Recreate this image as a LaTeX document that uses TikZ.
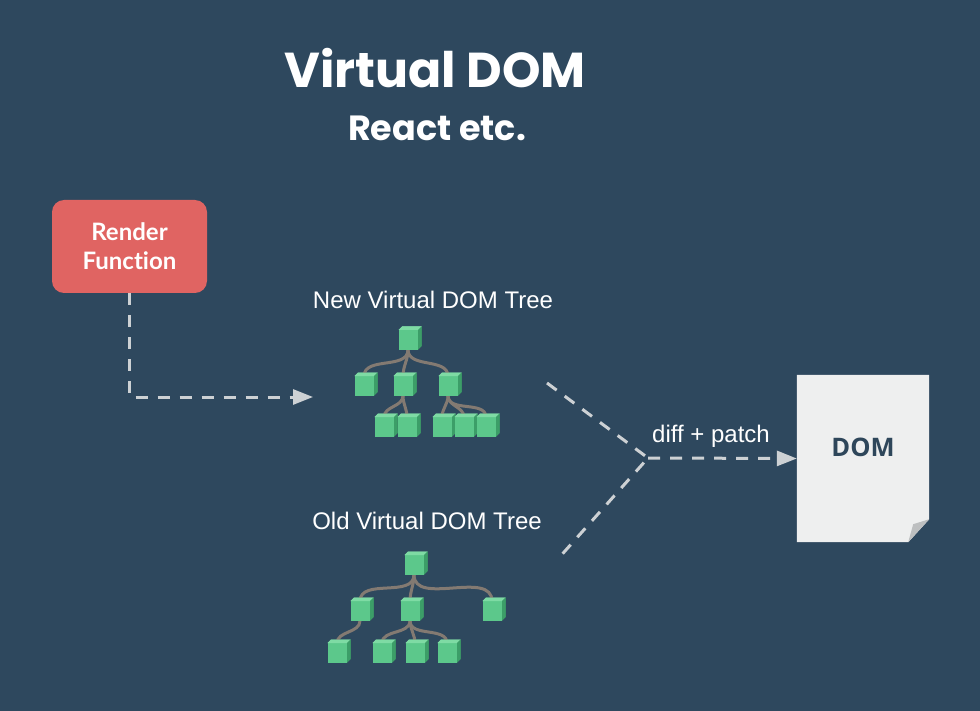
\documentclass[tikz,border=0pt]{standalone}
\usepackage{fontspec}
\setmainfont{Liberation Sans}
\newfontfamily\titlefont{Poppins}
\newfontfamily\boxfont{Lato}[Ligatures={NoCommon,NoContextual,NoRequired}]
\newfontfamily\domfont{Open Sans}
\usetikzlibrary{arrows.meta,calc}
\definecolor{bg}{HTML}{2E485E}
\definecolor{redbox}{HTML}{E06462}
\definecolor{dashc}{HTML}{CDD1D4}
\definecolor{gfront}{HTML}{5CC88B}
\definecolor{gtop}{HTML}{7EDBA4}
\definecolor{gside}{HTML}{3C9E68}
\definecolor{edgec}{HTML}{837A72}
\definecolor{paper}{HTML}{EEEFEF}
\definecolor{fold}{HTML}{BDBFC0}
\definecolor{domtext}{HTML}{2E465A}
\tikzset{
  cube/.style={rectangle, minimum width=23pt, minimum height=23pt, inner sep=0pt,
    path picture={
      \coordinate (q) at (path picture bounding box.south west);
      \fill[gfront] (q) rectangle ($(q)+(19.5pt,19.5pt)$);
      \fill[gtop] ($(q)+(0pt,19.5pt)$) -- ($(q)+(3.5pt,23pt)$) -- ($(q)+(23pt,23pt)$) -- ($(q)+(19.5pt,19.5pt)$) -- cycle;
      \fill[gside] ($(q)+(19.5pt,0pt)$) -- ($(q)+(23pt,3.5pt)$) -- ($(q)+(23pt,23pt)$) -- ($(q)+(19.5pt,19.5pt)$) -- cycle;
    }},
  treeedge/.style={draw=edgec, line width=3pt, out=-90, in=90, looseness=1},
  dashline/.style={draw=dashc, line width=3pt, dash pattern=on 12pt off 10pt},
  tip/.style={-{Triangle[length=20pt,width=15pt]}},
  lbl/.style={text=white, font=\fontsize{24}{28}\selectfont},
}
\begin{document}
\begin{tikzpicture}[x=1pt,y=-1pt]
\useasboundingbox[fill=bg] (0,0) rectangle (980,711);
% titles
\node[text=white, font=\titlefont\bfseries\fontsize{49}{54}\selectfont] (title) at (435,68) {Virtual DOM};
\node[text=white, font=\titlefont\bfseries\fontsize{35}{40}\selectfont] (subtitle) at (437,128) {React etc.};
% render function
\node[fill=redbox, rounded corners=12pt, minimum width=155pt, minimum height=93pt,
  text=white, align=center, font=\boxfont\bfseries\fontsize{24}{29}\selectfont] (render) at (129.5,246.5) {Render\\Function};
\coordinate (newin) at (313,397);
\draw[dashline, tip] (render.south) |- (newin);
% labels
\node[lbl] (newlbl) at (433,300) {New Virtual DOM Tree};
\node[lbl] (oldlbl) at (427,521) {Old Virtual DOM Tree};
% new tree
\node[cube] (n0) at (410,338) {};
\node[cube] (n1) at (366,384) {};
\node[cube] (n2) at (405,384) {};
\node[cube] (n3) at (450,384) {};
\node[cube] (n21) at (386,425) {};
\node[cube] (n22) at (409,425) {};
\node[cube] (n31) at (444,425) {};
\node[cube] (n32) at (466,425) {};
\node[cube] (n33) at (488,425) {};
% old tree
\node[cube] (o0) at (416,563) {};
\node[cube] (o1) at (362,609) {};
\node[cube] (o2) at (412,609) {};
\node[cube] (o3) at (494,609) {};
\node[cube] (o11) at (339,651) {};
\node[cube] (o21) at (384,651) {};
\node[cube] (o22) at (417,651) {};
\node[cube] (o23) at (449,651) {};
% edges
\foreach \a/\b in {n0/n1,n0/n2,n0/n3,n2/n21,n2/n22,n3/n31,n3/n32,n3/n33,
                   o0/o1,o0/o2,o0/o3,o1/o11,o2/o21,o2/o22,o2/o23}
  \draw[treeedge] ([xshift=-2pt]\a.south) to ([xshift=-2pt,yshift=-4pt]\b.north);
% redraw cubes on top
\foreach \c/\x/\y in {n0/410/338,n1/366/384,n2/405/384,n3/450/384,n21/386/425,n22/409/425,n31/444/425,n32/466/425,n33/488/425,
                      o0/416/563,o1/362/609,o2/412/609,o3/494/609,o11/339/651,o21/384/651,o22/417/651,o23/449/651}
  \node[cube] (\c) at (\x,\y) {};
% DOM page
\node[minimum width=132pt, minimum height=167pt, inner sep=0pt] (dom) at (863,458.5) {};
\fill[paper] (dom.north west) -- (dom.north east) -- ([yshift=23pt]dom.south east) -- ([xshift=-21pt]dom.south east) -- (dom.south west) -- cycle;
\fill[fold] ([yshift=23pt]dom.south east) -- ([xshift=-21pt]dom.south east) -- ([xshift=-16pt,yshift=18pt]dom.south east) -- cycle;
\node[text=domtext, font=\domfont\bfseries\fontsize{25.5}{30}\selectfont] (domlbl) at (863,447) {DOM};
% diff lines
\coordinate (a) at (547,383);
\coordinate (b) at (557,560);
\coordinate (j) at (648,458);
\draw[dashline] (a) -- (j) -- (b);
\draw[dashline, tip] (j) -- (dom.west);
\node[lbl, anchor=south] (diff) at (711,451) {diff + patch};
\end{tikzpicture}
\end{document}
